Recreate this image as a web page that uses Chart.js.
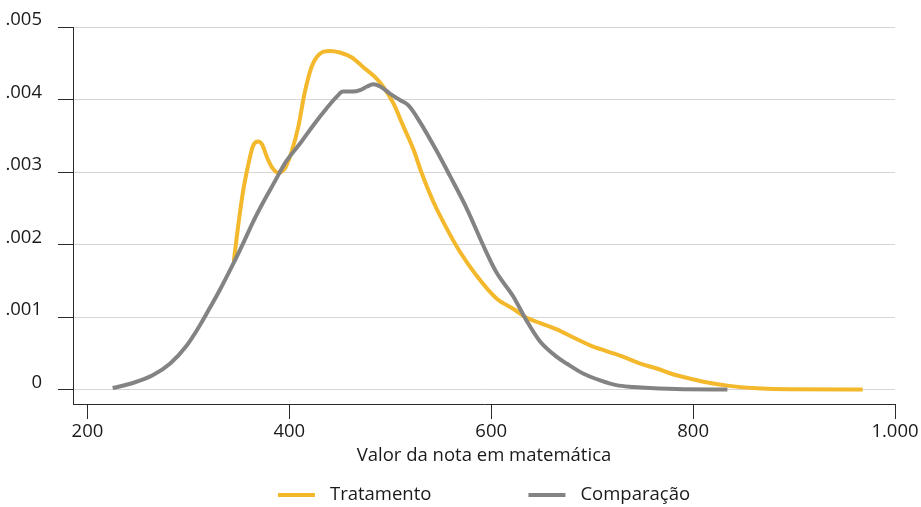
<!DOCTYPE html>
<html>
<head>
<meta charset="utf-8">
<script src="https://cdn.jsdelivr.net/npm/chart.js@4/dist/chart.umd.min.js"></script>
<style>
  html, body { margin: 0; padding: 0; background: #ffffff; }
  #wrap { width: 921px; height: 507px; }
</style>
</head>
<body>
<div id="wrap"><canvas id="c" width="921" height="507"></canvas></div>
<script>
// ---- data ----
const seriesNames = ['Tratamento', 'Comparação'];
const xTicks = [200, 400, 600, 800, 1000];
const yTicks = [0, 0.001, 0.002, 0.003, 0.004, 0.005];
const xTitle = 'Valor da nota em matemática';

const tratamentoX = [345, 349, 354, 359, 364, 369, 373, 378, 383, 389, 396, 402, 409, 415, 422, 430, 440, 450, 462, 473, 485, 493, 503, 513, 523, 531, 543, 556, 569, 585, 605, 622, 635, 648, 665, 681, 698, 714, 731, 747, 764, 780, 797, 813, 836, 863, 896, 968];
const tratamentoY = [0.00177, 0.00222, 0.00272, 0.00308, 0.00336, 0.00342, 0.00338, 0.00320, 0.00306, 0.00299, 0.00306, 0.00327, 0.00363, 0.00408, 0.00445, 0.00463, 0.00467, 0.00465, 0.00458, 0.00445, 0.00431, 0.00418, 0.00395, 0.00363, 0.00331, 0.00299, 0.00258, 0.00222, 0.00190, 0.00158, 0.00126, 0.00111, 0.00099, 0.00092, 0.00083, 0.00072, 0.00061, 0.00053, 0.00045, 0.00036, 0.00029, 0.00021, 0.00015, 0.00010, 0.00005, 0.000016, 0.000002, 0];

const comparacaoX = [225, 245, 265, 282, 298, 312, 321, 331, 345, 354, 364, 374, 384, 397, 411, 424, 437, 447, 453, 463, 470, 477, 483, 490, 500, 510, 518, 529, 546, 559, 576, 592, 605, 622, 635, 648, 665, 675, 691, 708, 724, 741, 757, 790, 834];
const comparacaoY = [0.00002, 0.00009, 0.00020, 0.00036, 0.00060, 0.00090, 0.00112, 0.00137, 0.00175, 0.00201, 0.00231, 0.00258, 0.00283, 0.00315, 0.00340, 0.00365, 0.00388, 0.00404, 0.00411, 0.00411, 0.00413, 0.00418, 0.00421, 0.00418, 0.00408, 0.00399, 0.00392, 0.00370, 0.00329, 0.00295, 0.00249, 0.00199, 0.00162, 0.00128, 0.00095, 0.00067, 0.00045, 0.000355, 0.00022, 0.000125, 0.00006, 0.000035, 0.00002, 0.000003, 0];

const colors = ['#F3B82C', '#838383'];
const textColor = '#1a1a1a';
const axisColor = '#2b2b2b';
const gridColor = '#d6d6d6';
const fontFamily = '"Open Sans", "Noto Sans", sans-serif';
const fontSize = 18.5;

function toPoints(xs, ys) { return xs.map((x, i) => ({ x: x, y: ys[i] })); }

function fmtX(v) {
  return v >= 1000 ? Math.floor(v / 1000) + '.' + String(v % 1000).padStart(3, '0') : String(v);
}
function fmtY(v) {
  if (v === 0) return '0';
  return '.' + String(Math.round(v * 1000)).padStart(3, '0');
}

const legendPlugin = {
  id: 'customLegend',
  afterDraw(chart) {
    const ctx = chart.ctx;
    const ds = chart.data.datasets;
    ctx.save();
    ctx.font = fontSize + 'px ' + fontFamily;
    const lineW = 37, gapText = 15, gapItem = 97;
    const widths = ds.map(d => ctx.measureText(d.label).width);
    let total = 0;
    widths.forEach((w, i) => { total += lineW + gapText + w + (i < widths.length - 1 ? gapItem : 0); });
    const cx = (chart.chartArea.left + chart.chartArea.right) / 2;
    let x = cx - total / 2;
    const y = chart.height - 12;
    ds.forEach((d, i) => {
      ctx.strokeStyle = d.borderColor;
      ctx.lineWidth = 4;
      ctx.lineCap = 'butt';
      ctx.beginPath();
      ctx.moveTo(x, y);
      ctx.lineTo(x + lineW, y);
      ctx.stroke();
      ctx.fillStyle = textColor;
      ctx.textBaseline = 'middle';
      ctx.textAlign = 'left';
      ctx.fillText(d.label, x + lineW + gapText, y);
      x += lineW + gapText + widths[i] + gapItem;
    });
    ctx.restore();
  }
};

new Chart(document.getElementById('c'), {
  type: 'line',
  data: {
    datasets: [
      { label: seriesNames[0], data: toPoints(tratamentoX, tratamentoY), borderColor: colors[0], backgroundColor: colors[0], borderWidth: 4, pointRadius: 0, fill: false, cubicInterpolationMode: 'monotone', order: 1 },
      { label: seriesNames[1], data: toPoints(comparacaoX, comparacaoY), borderColor: colors[1], backgroundColor: colors[1], borderWidth: 4, pointRadius: 0, fill: false, cubicInterpolationMode: 'monotone', order: 0 }
    ]
  },
  options: {
    responsive: false,
    animation: false,
    events: [],
    layout: { padding: { left: 0, top: 23, right: 26, bottom: 38 } },
    plugins: { legend: { display: false }, tooltip: { enabled: false } },
    scales: {
      x: {
        type: 'linear',
        position: 'bottom',
        min: 185.7,
        max: 1000,
        afterBuildTicks(scale) { scale.ticks = xTicks.map(v => ({ value: v })); },
        afterFit(scale) { scale.height = 65; },
        border: { display: true, color: axisColor, width: 1 },
        grid: { drawOnChartArea: false, drawTicks: true, tickLength: 15, tickColor: axisColor, tickWidth: 1, color: axisColor },
        ticks: { callback: v => fmtX(v), color: textColor, font: { family: fontFamily, size: fontSize }, padding: 2, maxRotation: 0, autoSkip: false },
        title: { display: true, text: xTitle, color: textColor, font: { family: fontFamily, size: fontSize }, padding: { top: 0, bottom: 2 } }
      },
      y: {
        type: 'linear',
        min: -0.0002,
        max: 0.005,
        afterBuildTicks(scale) { scale.ticks = yTicks.map(v => ({ value: v })); },
        afterFit(scale) { scale.width = 73; },
        border: { display: true, color: axisColor, width: 1 },
        grid: { drawOnChartArea: true, drawTicks: true, tickLength: 15, tickColor: axisColor, tickWidth: 1, color: gridColor, lineWidth: 1 },
        ticks: { callback: v => fmtY(v), color: textColor, font: { family: fontFamily, size: fontSize }, padding: 16, labelOffset: -7, autoSkip: false }
      }
    }
  },
  plugins: [legendPlugin]
});
</script>
</body>
</html>
